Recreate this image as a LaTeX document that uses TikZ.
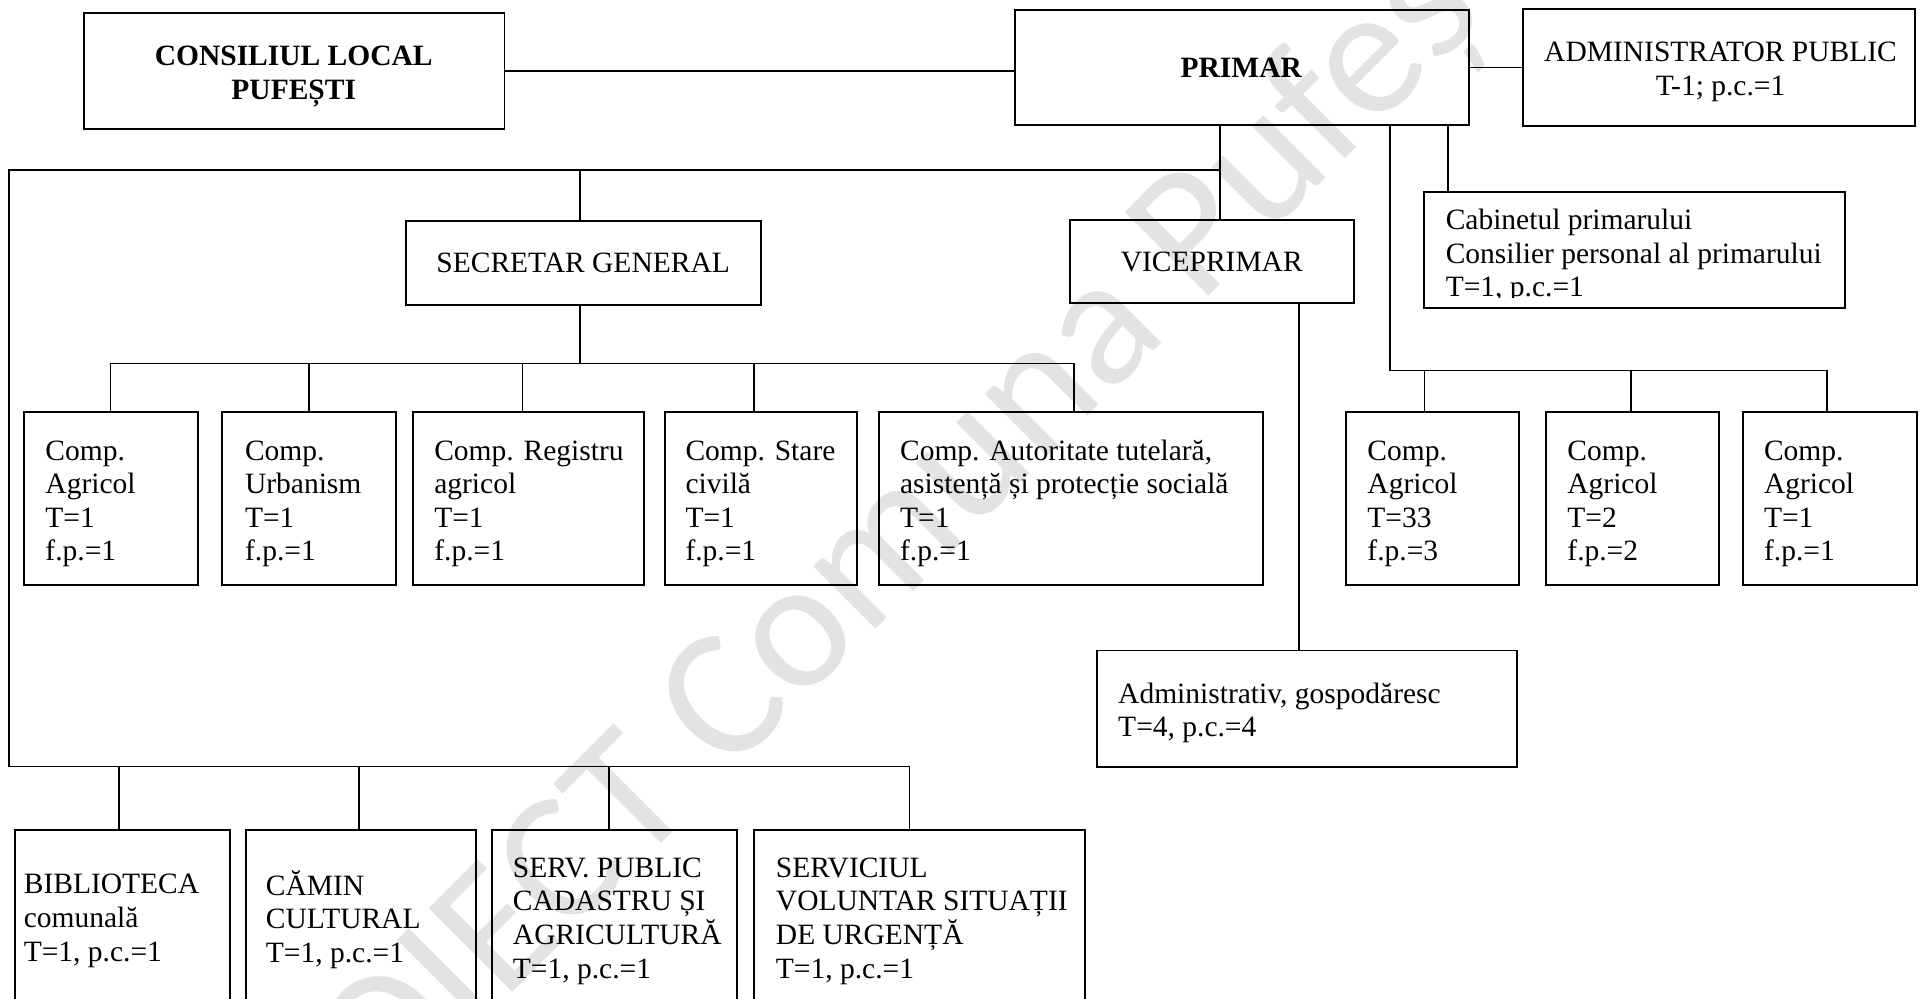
\documentclass[tikz,border=0pt]{standalone}
\usepackage{fontspec}
\setmainfont{Liberation Serif}
\newfontfamily\wmfont{Carlito}
\usetikzlibrary{fit}
\begin{document}
\begin{tikzpicture}[x=0.5pt,y=-0.5pt,
  box/.style={draw, line width=0.8pt, inner sep=0pt, rectangle},
  conn/.style={line width=0.65pt},
  txt/.style={inner sep=0pt, font=\fontsize{12}{13.65}\selectfont, align=left, anchor=north west},
  ctxt/.style={inner sep=0pt, font=\fontsize{12}{13.65}\selectfont, align=center},
  wmark/.style={rotate=45, text=gray!22, inner sep=0pt, anchor=base west, font=\wmfont\fontsize{75}{75}\selectfont}
]
\useasboundingbox (0,0) rectangle (1568,812.1);
\clip (0,0) rectangle (1568,812.1);
\fill[white] (0,0) rectangle (1568,812.1);

% watermark
\node[wmark] (wm) at (200.6,1023.4) {PROIECT Comuna Pufești};

% boxes
\node[box, fit={(68,10.3) (410.5,105)}] (cl) {};
\node[box, fit={(826,7.8) (1195,102)}] (primar) {};
\node[box, fit={(1239,7.6) (1558,102.5)}] (admin) {};
\node[box, fit={(330,179.7) (619,248)}] (secr) {};
\node[box, fit={(870.4,178.7) (1101.7,246.5)}] (vice) {};
\node[box, fit={(1159,156) (1501,250.6)}] (cab) {};
\node[box, fit={(19.5,335.6) (161,476)}] (c1) {};
\node[box, fit={(181,335.6) (322.2,476)}] (c2) {};
\node[box, fit={(336.2,335.6) (524,476)}] (c3) {};
\node[box, fit={(541,335.6) (697,476)}] (c4) {};
\node[box, fit={(715.2,335.6) (1027.6,476)}] (c5) {};
\node[box, fit={(1095,335.6) (1236,476)}] (r1) {};
\node[box, fit={(1258,335.6) (1398.4,476)}] (r2) {};
\node[box, fit={(1418,335.6) (1559.5,476)}] (r3) {};
\node[box, fit={(892.6,529.3) (1234.7,624.1)}] (adm) {};
\node[box, fit={(12,675) (187,840)}] (b1) {};
\node[box, fit={(200,675) (387,840)}] (b2) {};
\node[box, fit={(400.2,675) (599.8,840)}] (b3) {};
\node[box, fit={(613.4,675) (882.6,840)}] (b4) {};

% texts
\node[ctxt, anchor=north, font=\fontsize{12}{14}\selectfont\bfseries] (clt) at (239,32.9) {\strut CONSILIUL LOCAL\\PUFEȘTI};
\node[ctxt, anchor=base, font=\fontsize{12}{13.65}\selectfont\bfseries] (primart) at (1010,63) {PRIMAR};
\node[ctxt, anchor=north] (admint) at (1400,30.9) {\strut ADMINISTRATOR PUBLIC\\T-1; p.c.=1};
\node[ctxt, anchor=base] (secrt) at (474.5,221.5) {SECRETAR GENERAL};
\node[ctxt, anchor=base] (vicet) at (986,220.7) {VICEPRIMAR};
\begin{scope}
\clip (1159,156) rectangle (1501,242.3);
\node[txt] (cabt) at (1176,167.4) {\strut Cabinetul primarului\\Consilier personal al primarului\\T=1, p.c.=1};
\end{scope}
\node[txt] (c1t) at (36.6,354.9) {\strut Comp.\\Agricol\\T=1\\f.p.=1};
\node[txt] (c2t) at (199,354.9) {\strut Comp.\\Urbanism\\T=1\\f.p.=1};
\node[txt] (c3t) at (353,354.9) {\strut Comp. Registru\\agricol\\T=1\\f.p.=1};
\node[txt] (c4t) at (557.4,354.9) {\strut Comp. Stare\\civilă\\T=1\\f.p.=1};
\node[txt] (c5t) at (732,354.9) {\strut Comp. Autoritate tutelară,\\asistență și protecție socială\\T=1\\f.p.=1};
\node[txt] (r1t) at (1112.3,354.9) {\strut Comp.\\Agricol\\T=33\\f.p.=3};
\node[txt] (r2t) at (1275,354.9) {\strut Comp.\\Agricol\\T=2\\f.p.=2};
\node[txt] (r3t) at (1435,354.9) {\strut Comp.\\Agricol\\T=1\\f.p.=1};
\node[txt] (admt) at (909.5,552.7) {\strut Administrativ, gospodăresc\\T=4, p.c.=4};
\node[txt] (b1t) at (19,707.9) {\strut BIBLIOTECA\\comunală\\T=1, p.c.=1};
\node[txt] (b2t) at (216,707.9) {\strut CĂMIN\\CULTURAL\\T=1, p.c.=1};
\node[txt] (b3t) at (417,694.4) {\strut SERV. PUBLIC\\CADASTRU ȘI\\AGRICULTURĂ\\T=1, p.c.=1};
\node[txt] (b4t) at (631,694.4) {\strut SERVICIUL\\VOLUNTAR SITUAȚII\\DE URGENȚĂ\\T=1, p.c.=1};

% coordinates for buses
\coordinate (pv) at (992.5,138.5);
\coordinate (lb) at (7.3,138.5);
\coordinate (lbb) at (7.3,623.6);
\coordinate (bbr) at (740.2,623.6);
\coordinate (sx) at (471.7,138.5);
\coordinate (sb) at (471.7,295.7);
\coordinate (d1) at (90,295.7);
\coordinate (d2) at (251.5,295.7);
\coordinate (d3) at (425,295.7);
\coordinate (d4) at (613.3,295.7);
\coordinate (d5) at (873.8,295.7);
\coordinate (rb0) at (1131,301.4);
\coordinate (rb1) at (1159,301.4);
\coordinate (rb2) at (1327,301.4);
\coordinate (rb3) at (1486.6,301.4);
\coordinate (cb) at (1178,130);
\coordinate (va) at (1057,400);
\coordinate (e1) at (97,623.6);
\coordinate (e2) at (292,623.6);
\coordinate (e3) at (495.5,623.6);
\coordinate (e4) at (740.2,623.6);

% connectors
\draw[conn] (cl.east) -- (cl.east -| primar.west);
\draw[conn] (primar.east) -- (primar.east -| admin.west);
\draw[conn] (primar.south -| pv) -- (vice.north -| pv);
\draw[conn] (pv) -- (lb) -- (lbb) -- (bbr);
\draw[conn] (sx) -- (sx |- secr.north);
\draw[conn] (secr.south -| sb) -- (sb);
\draw[conn] (d1) -- (d5);
\draw[conn] (d1) -- (d1 |- c1.north);
\draw[conn] (d2) -- (d2 |- c2.north);
\draw[conn] (d3) -- (d3 |- c3.north);
\draw[conn] (d4) -- (d4 |- c4.north);
\draw[conn] (d5) -- (d5 |- c5.north);
\draw[conn] (primar.south -| rb0) -- (rb0) -- (rb3);
\draw[conn] (rb1) -- (rb1 |- r1.north);
\draw[conn] (rb2) -- (rb2 |- r2.north);
\draw[conn] (rb3) -- (rb3 |- r3.north);
\draw[conn] (primar.south -| cb) -- (cab.north -| cb);
\draw[conn] (vice.south -| va) -- (adm.north -| va);
\draw[conn] (e1) -- (e1 |- b1.north);
\draw[conn] (e2) -- (e2 |- b2.north);
\draw[conn] (e3) -- (e3 |- b3.north);
\draw[conn] (e4) -- (e4 |- b4.north);
\end{tikzpicture}
\end{document}
